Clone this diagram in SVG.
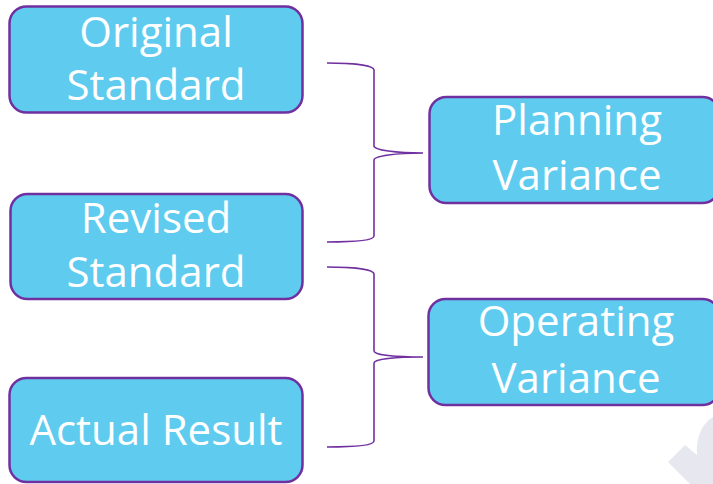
<svg xmlns="http://www.w3.org/2000/svg" width="713" height="484" viewBox="0 0 713 484">
<defs>
<style>
.box{fill:#5ECBEF;stroke:#7030A0;stroke-width:2.5}
.lbl{font-family:"Open Sans","DejaVu Sans",sans-serif;font-size:42px;fill:#ffffff;text-anchor:middle}
.brace{fill:none;stroke:#7030A0;stroke-width:1.6}
</style>
</defs>
<rect width="713" height="484" fill="#ffffff"/>
<path d="M668,462 L685,445 L697,455 C696,440 700,425 713,417 L713,484 L690,484 Z" fill="#E7E7EF"/>
<g id="connectors">
<path class="brace" d="M327,63 C352,63 374,65 374,70 L374,146 C374,150 396,153 423,153 C396,153 374,156 374,160 L374,236 C374,241 352,242 327,242"/>
<path class="brace" d="M327,267 C352,267 374,269 374,274 L374,351 C374,355 396,357 423,357 C396,357 374,359 374,363 L374,441 C374,446 352,447 327,447"/>
</g>
<g id="original-standard">
<rect class="box" x="9.5" y="6.5" width="293" height="106" rx="17"/>
<text class="lbl" x="156" y="47">Original</text>
<text class="lbl" x="156" y="100">Standard</text>
</g>
<g id="revised-standard">
<rect class="box" x="10.5" y="194" width="292" height="105" rx="17"/>
<text class="lbl" x="156" y="233">Revised</text>
<text class="lbl" x="156" y="287">Standard</text>
</g>
<g id="actual-result">
<rect class="box" x="9.5" y="378" width="293" height="104" rx="17"/>
<text class="lbl" x="156" y="445">Actual Result</text>
</g>
<g id="planning-variance">
<rect class="box" x="429.5" y="97" width="290" height="106" rx="17"/>
<text class="lbl" x="577" y="135">Planning</text>
<text class="lbl" x="577" y="190">Variance</text>
</g>
<g id="operating-variance">
<rect class="box" x="428.5" y="299" width="291" height="106" rx="17"/>
<text class="lbl" x="576" y="336">Operating</text>
<text class="lbl" x="576" y="393">Variance</text>
</g>
</svg>
